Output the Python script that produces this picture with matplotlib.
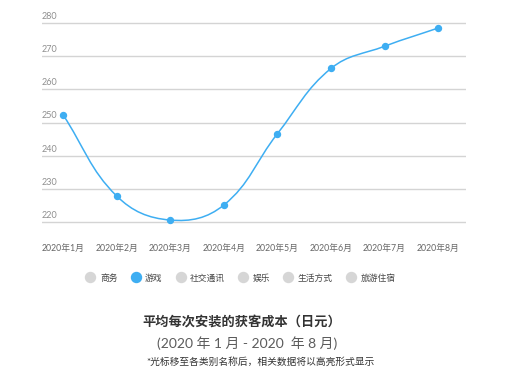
import matplotlib
matplotlib.use("Agg")
import numpy as np
import matplotlib.pyplot as plt
from matplotlib.path import Path
from matplotlib.patches import PathPatch
from matplotlib.lines import Line2D
from matplotlib.transforms import blended_transform_factory

plt.rcParams['font.family'] = ['Lato', 'Noto Sans CJK SC', 'DejaVu Sans']

# data
months = ['2020年1月', '2020年2月', '2020年3月', '2020年4月',
          '2020年5月', '2020年6月', '2020年7月', '2020年8月']
cost = [252.4, 227.9, 220.6, 225.1, 246.6, 266.3, 273.0, 278.5]
y_ticks = [220, 230, 240, 250, 260, 270, 280]
legend_names = ['商务', '游戏', '社交通讯', '娱乐', '生活方式', '旅游住宿']
legend_active = [False, True, False, False, False, False]

BLUE = '#3eaef2'
GREY = '#d6d6d6'


def smooth_path(ax, xs, ys, smooth=0.4):
    # echarts-like bezier smoothing, done in display space
    pts = ax.transData.transform(np.column_stack([xs, ys]))
    n = len(pts)
    verts = [pts[0]]
    codes = [Path.MOVETO]
    cps = []
    for i in range(n):
        prev = pts[i - 1] if i > 0 else pts[i]
        nxt = pts[i + 1] if i < n - 1 else pts[i]
        v = nxt - prev
        d0 = np.hypot(*(pts[i] - prev))
        d1 = np.hypot(*(nxt - pts[i]))
        tot = d0 + d1 if d0 + d1 > 0 else 1
        cps.append((pts[i] - v * smooth * d0 / tot, pts[i] + v * smooth * d1 / tot))
    for i in range(n - 1):
        verts += [cps[i][1], cps[i + 1][0], pts[i + 1]]
        codes += [Path.CURVE4] * 3
    verts = ax.transData.inverted().transform(np.array(verts))
    return Path(verts, codes)


def plot_figure():
    fig = plt.figure(figsize=(5.1, 3.84), dpi=100)
    ax = fig.add_axes([42 / 510, 0.3786, 424 / 510, 0.5786])
    x = np.arange(len(months))
    ax.set_xlim(-0.39, 7.52)
    ax.set_ylim(215, 282)

    ax.set_yticks(y_ticks)
    ax.set_yticklabels([])
    ax.tick_params(axis='y', length=0)
    ax.grid(axis='y', color='#d4d4d4', linewidth=1)
    ax.set_axisbelow(True)
    for s in ax.spines.values():
        s.set_visible(False)

    trans = blended_transform_factory(ax.transAxes, ax.transData)
    for v in y_ticks:
        ax.annotate(str(v), xy=(0, v), xycoords=trans, xytext=(0, 1.5),
                    textcoords='offset points', ha='left', va='bottom',
                    fontsize=6.5, color='#8f8f8f')

    ax.set_xticks(x)
    ax.set_xticklabels(months, fontsize=6.3, color='#666666')
    ax.tick_params(axis='x', length=0, pad=4)

    path = smooth_path(ax, x, cost)
    ax.add_patch(PathPatch(path, facecolor='none', edgecolor=BLUE, linewidth=1.1))
    ax.plot(x, cost, 'o', color=BLUE, markersize=4.3, zorder=3)

    handles = [Line2D([], [], marker='o', linestyle='none', markersize=7.2,
                      color=BLUE if a else GREY) for a in legend_active]
    fig.legend(handles, legend_names, loc='center', bbox_to_anchor=(0.472, 1 - 278 / 384),
               ncol=6, frameon=False, fontsize=6.3, handletextpad=0.6,
               columnspacing=1.55, handlelength=1.0, labelcolor='#444444')

    fig.text(0.475, 1 - 322 / 384, '平均每次安装的获客成本（日元）', ha='center', va='center',
             fontsize=9.5, fontweight='bold', color='#333333')
    fig.text(0.484, 1 - 343 / 384, '(2020 年 1 月 - 2020  年 8 月)', ha='center', va='center',
             fontsize=10, color='#5c5c5c')
    fig.text(0.51, 1 - 362 / 384, '*光标移至各类别名称后，相关数据将以高亮形式显示', ha='center',
             va='center', fontsize=7, color='#333333')

    fig.savefig('out.png', dpi=100)


if __name__ == '__main__':
    plot_figure()
